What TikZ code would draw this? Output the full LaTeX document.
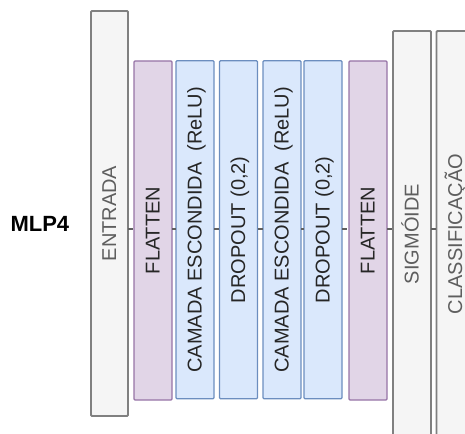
\documentclass[tikz,border=0pt]{standalone}
\usepackage{fontspec}
\setmainfont{Liberation Sans}
\usepackage{graphicx}

\definecolor{grayfill}{HTML}{F5F5F5}
\definecolor{graydraw}{HTML}{808080}
\definecolor{graytext}{HTML}{5E5E5E}
\definecolor{purplefill}{HTML}{E1D5E7}
\definecolor{purpledraw}{HTML}{9673A6}
\definecolor{bluefill}{HTML}{DAE8FC}
\definecolor{bluedraw}{HTML}{6C8EBF}
\definecolor{darktext}{HTML}{262626}
\definecolor{connline}{HTML}{606060}

\newcommand{\vlabel}[1]{\rotatebox{90}{\vphantom{\~A\c{C}}#1}}

\tikzset{
  layer/.style={inner sep=0pt, outer sep=0pt, rounded corners=1pt,
    font=\fontsize{20}{24}\selectfont},
  iobox/.style={layer, fill=grayfill, draw=graydraw, line width=1.8pt, text=graytext},
  flatbox/.style={layer, fill=purplefill, draw=purpledraw, line width=1.2pt, text=darktext},
  densebox/.style={layer, fill=bluefill, draw=bluedraw, line width=1.2pt, text=darktext},
  conn/.style={draw=connline, line width=1.5pt, dash pattern=on 5pt off 3pt},
}

\begin{document}
\begin{tikzpicture}[x=1pt, y=-1pt]
  \useasboundingbox (0,0) rectangle (465,433);

  % model name
  \node[font=\fontsize{22}{26}\selectfont\bfseries, anchor=west] (title) at (7,224) {MLP4};

  % dashed links between consecutive layers (drawn first, boxes cover the ends)
  \coordinate (mid) at (0,229);

  % layer stack
  \node[iobox, minimum width=37pt, minimum height=405pt] (entrada) at (109.5,213.5) {\vlabel{ENTRADA}};
  \node[flatbox, minimum width=38pt, minimum height=339pt] (flat1) at (153,230.5) {\vlabel{FLATTEN}};
  \node[densebox, minimum width=38pt, minimum height=338pt] (hid1) at (195,229.75) {\vlabel{CAMADA ESCONDIDA~~(ReLU)}};
  \node[densebox, minimum width=38pt, minimum height=338pt] (drop1) at (238.5,229.75) {\vlabel{DROPOUT (0,2)}};
  \node[densebox, minimum width=38pt, minimum height=338pt] (hid2) at (282,229.75) {\vlabel{CAMADA ESCONDIDA~~(ReLU)}};
  \node[densebox, minimum width=38pt, minimum height=338pt] (drop2) at (323,229.75) {\vlabel{DROPOUT (0,2)}};
  \node[flatbox, minimum width=38pt, minimum height=339pt] (flat2) at (368,230.5) {\vlabel{FLATTEN}};
  \node[iobox, minimum width=38pt, minimum height=406pt] (sig) at (412,234) {\vlabel{SIGMÓIDE}};
  \node[iobox, minimum width=38pt, minimum height=406pt] (cls) at (455.5,234) {\vlabel{CLASSIFICAÇÃO}};

  \foreach \a/\b in {entrada/flat1, flat1/hid1, hid1/drop1, drop1/hid2, hid2/drop2, drop2/flat2, flat2/sig, sig/cls}
    \draw[conn] (\a.east |- mid) -- (\b.west |- mid);
\end{tikzpicture}
\end{document}
